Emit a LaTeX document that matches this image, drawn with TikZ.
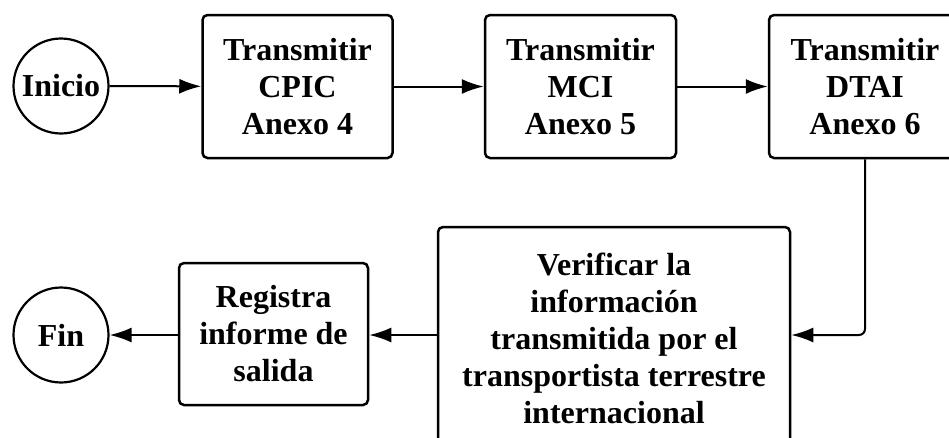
\documentclass[tikz,border=0pt]{standalone}
\usepackage{fontspec}
\setmainfont{Liberation Serif}
\usetikzlibrary{arrows.meta}
\begin{document}
\begin{tikzpicture}[x=1pt,y=1pt,
  every node/.style={font=\fontsize{32}{37}\selectfont\bfseries, align=center},
  stepbox/.style={draw, line width=2.5pt, rounded corners=5pt, inner sep=0pt},
  term/.style={draw, circle, line width=2.2pt, minimum size=95pt, inner sep=0pt},
  conn/.style={line width=2pt, -{Latex[length=22pt,width=15pt]}}]
\useasboundingbox (0,0) rectangle (949,-437);
\clip (0,0) rectangle (949,-437);
\fill[white] (0,0) rectangle (949,-437);
\node[term] (ini) at (61,-86) {Inicio};
\node[stepbox, minimum width=190pt, minimum height=143pt] (b1) at (297.5,-86.5) {Transmitir\\CPIC\\Anexo 4};
\node[stepbox, minimum width=191pt, minimum height=143pt] (b2) at (580.5,-86.5) {Transmitir\\MCI\\Anexo 5};
\node[stepbox, minimum width=192pt, minimum height=143pt] (b3) at (865,-86.5) {Transmitir\\DTAI\\Anexo 6};
\node[stepbox, minimum width=352pt, minimum height=222pt] (ver) at (614,-338) {Verificar la\\información\\transmitida por el\\transportista terrestre\\internacional};
\node[stepbox, minimum width=189pt, minimum height=142pt] (reg) at (273.5,-334) {Registra\\informe de\\salida};
\node[term] (fin) at (61,-335) {Fin};
\draw[conn] (ini) -- (b1);
\draw[conn] (b1) -- (b2);
\draw[conn] (b2) -- (b3);
\draw[conn, rounded corners=6pt] (b3.south) |- (ver.east |- 0,-335);
\draw[conn] (ver.west |- 0,-335) -- (reg.east |- 0,-335);
\draw[conn] (reg.west |- 0,-335) -- (fin);
\end{tikzpicture}
\end{document}
